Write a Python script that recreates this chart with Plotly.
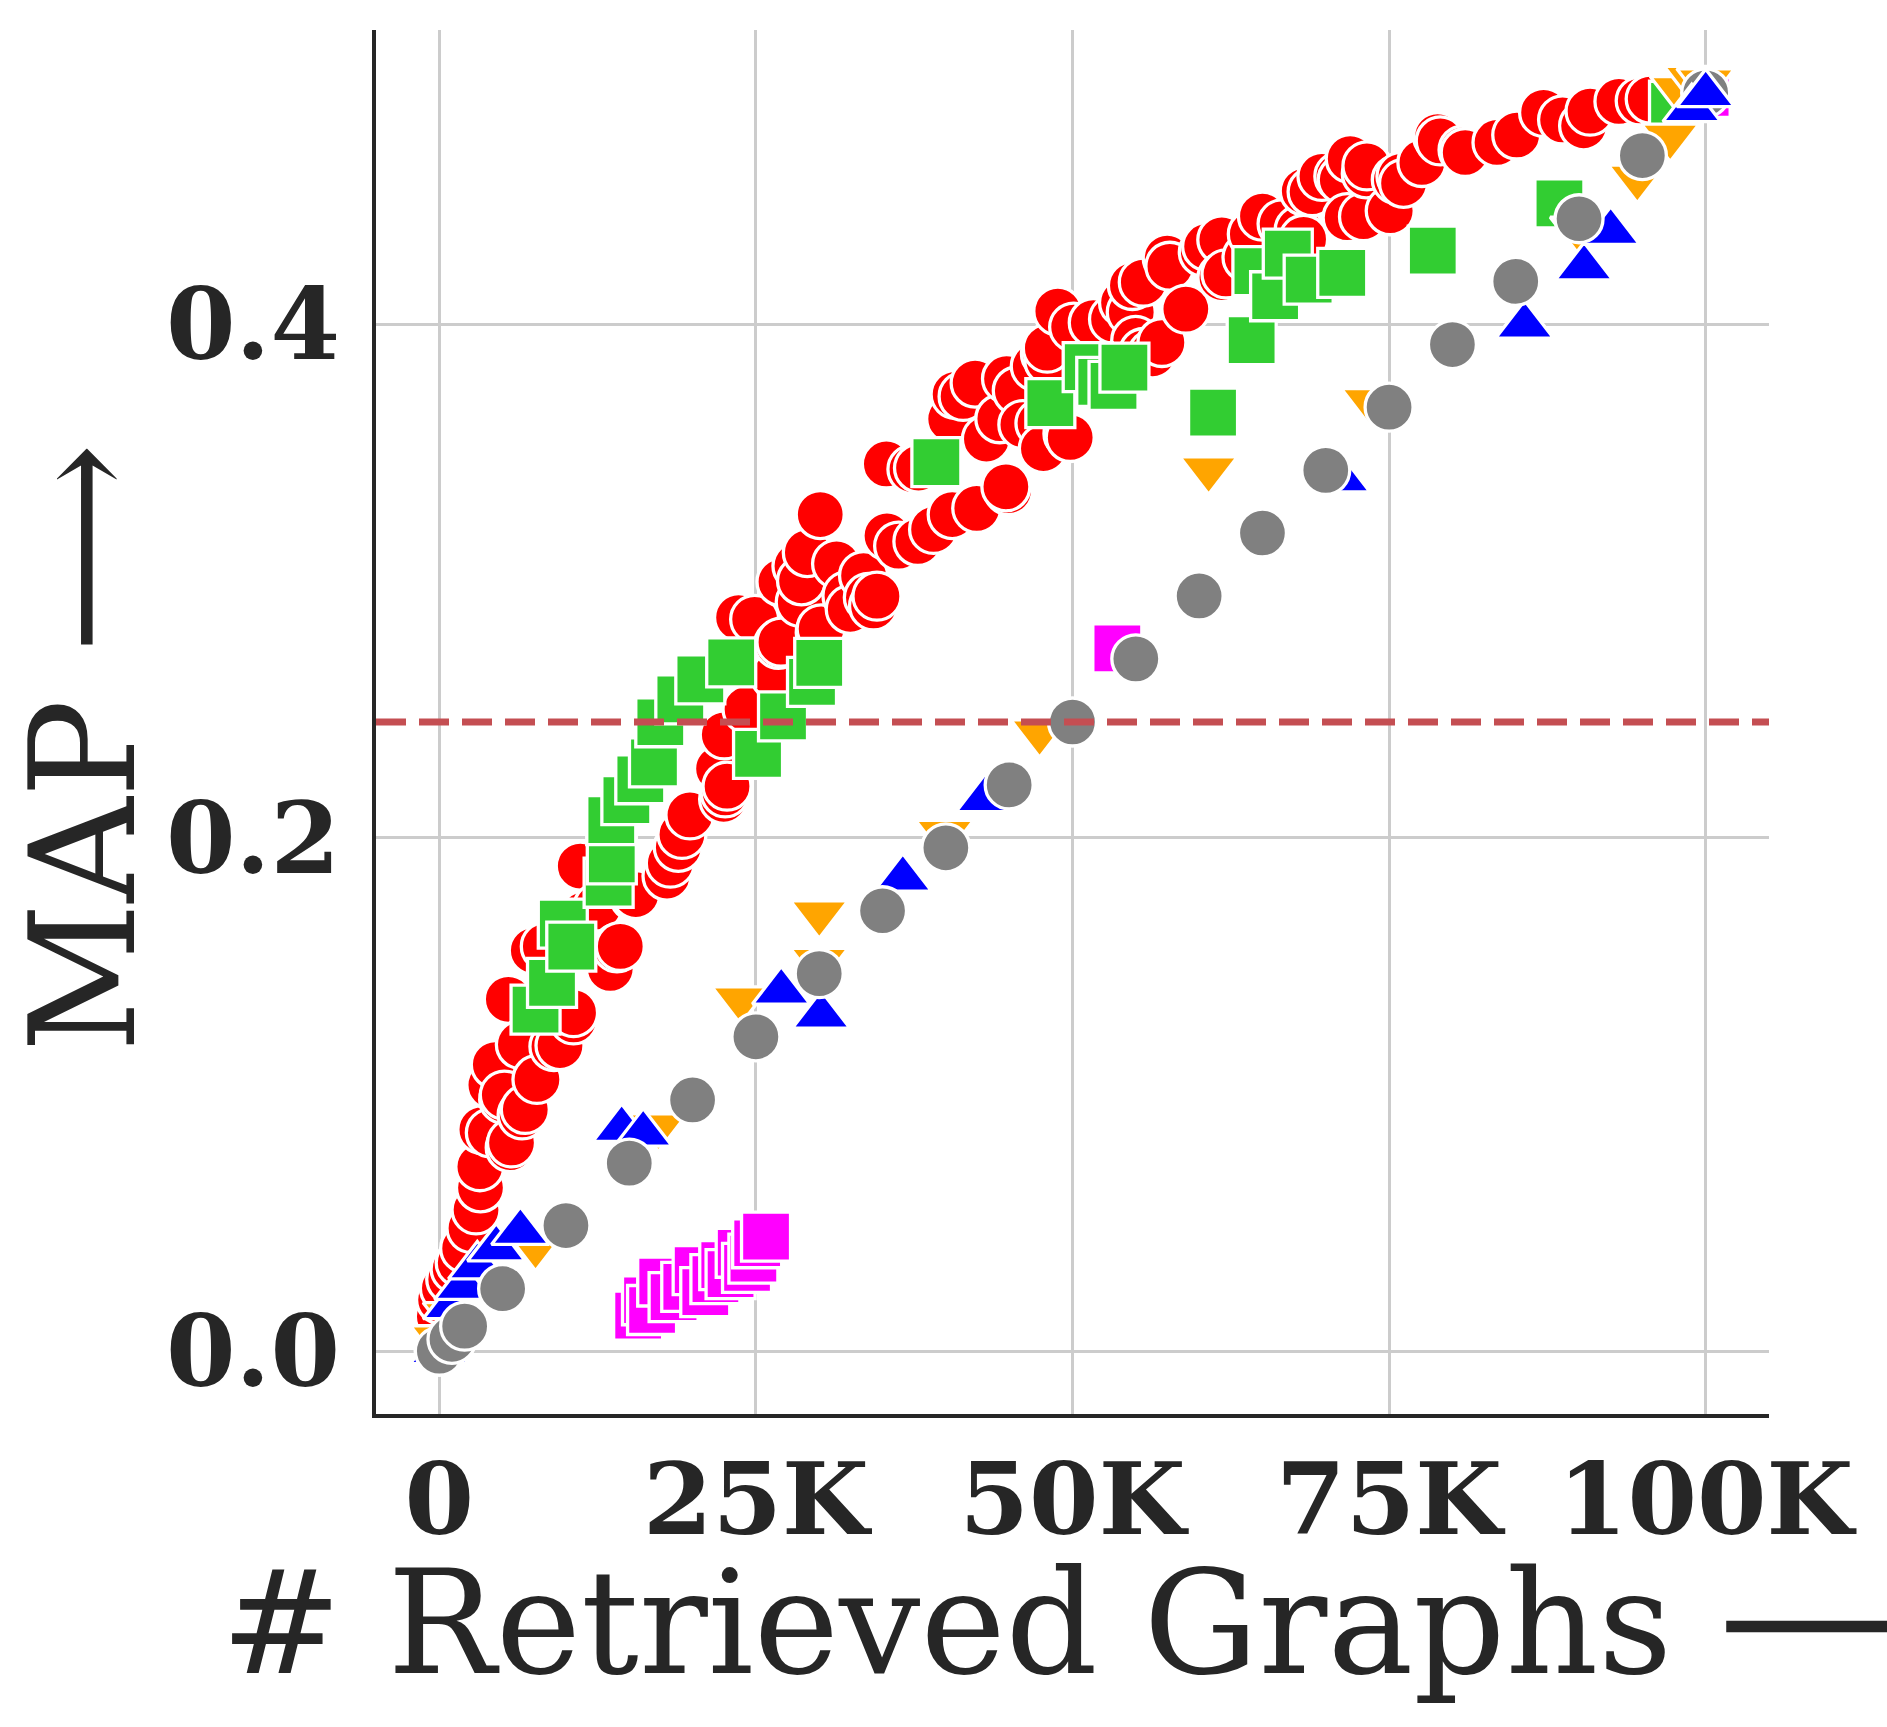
import plotly.graph_objects as go

# ---------------- data ----------------
x_tick_vals = [0, 25000, 50000, 75000, 100000]
x_tick_text = ["0", "25K", "50K", "75K", "100K"]
y_tick_vals = [0.0, 0.2, 0.4]
y_tick_text = ["0.0", "0.2", "0.4"]
threshold_map = 0.245
x_title = "# Retrieved Graphs ⟶"
y_title = "MAP ⟶"

red_x = [0, 0, 0, 100, 400, 900, 1250, 1650, 2000, 2500, 2900, 3250, 3200, 3360, 4030, 4070, 4420,
         5080, 5130, 5450, 5600, 5700, 6400, 6540, 6790, 7420, 7710, 8370, 9050, 9530, 10410, 10600,
         10600, 10800, 10870, 11130, 11430, 12530, 13330, 13500, 14030, 14290, 15400, 15520, 17980,
         18240, 18870, 19160, 19790, 22050, 22450, 22570, 22720, 22500, 24300, 26530, 23500, 23630,
         24900, 26790, 26980, 26980, 28240, 28500, 28600, 29060, 30080, 30080, 30150, 31370, 32190,
         32450, 33500, 33880, 34290, 34560, 35300, 35350, 36270, 37320, 37840, 37790, 39030, 40380,
         40500, 40730, 41360, 42310, 42440, 43200, 44260, 44790, 44950, 44740, 45640, 46080, 47060,
         47430, 47700, 47860, 48130, 48010, 48840, 49640, 49820, 50090, 51640, 53240, 54030, 54640,
         54730, 54990, 55590, 55610, 56330, 57060, 57480, 57690, 58950, 60330, 60590, 61790, 61800,
         62120, 63780, 64200, 65000, 66550, 67900, 68250, 68300, 68920, 69700, 71030, 71300, 71690,
         71930, 72980, 73200, 73250, 75090, 75570, 75940, 76140, 77590, 78830, 79040, 80840, 81010,
         83520, 85080, 87200, 88700, 90360, 90870, 93150, 94830, 95620]
red_y = [0.000, 0.008, 0.0135, 0.020, 0.0245, 0.028, 0.032, 0.0344, 0.040, 0.0478, 0.055, 0.0636,
         0.0718, 0.0863, 0.0850, 0.1036, 0.1116, 0.0980, 0.0997, 0.1370, 0.0792, 0.0811, 0.1194,
         0.0920, 0.0941, 0.1560, 0.1058, 0.1576, 0.1186, 0.1190, 0.1306, 0.1290, 0.1318, 0.1660,
         0.1590, 0.1889, 0.1700, 0.1730, 0.1514, 0.1490, 0.1570, 0.1576, 0.1770, 0.1778, 0.1850,
         0.1900, 0.1962, 0.2012, 0.2088, 0.2268, 0.2149, 0.2174, 0.2200, 0.2400, 0.2500, 0.2630,
         0.2863, 0.2857, 0.2850, 0.2752, 0.2761, 0.2996, 0.3058, 0.2916, 0.3000, 0.3110, 0.3258,
         0.2798, 0.2813, 0.3066, 0.2942, 0.2889, 0.3020, 0.2935, 0.2902, 0.2940, 0.3455, 0.3175,
         0.3135, 0.3434, 0.3439, 0.3153, 0.3200, 0.3630, 0.3258, 0.3726, 0.3718, 0.3770, 0.3282,
         0.3552, 0.3631, 0.3787, 0.3351, 0.3366, 0.3740, 0.3608, 0.3835, 0.3613, 0.3515, 0.3884,
         0.3857, 0.3906, 0.4050, 0.3573, 0.3558, 0.3988, 0.4005, 0.4019, 0.4084, 0.4046, 0.4150,
         0.3936, 0.4163, 0.3889, 0.3884, 0.3928, 0.4257, 0.4225, 0.4058, 0.4280, 0.4302, 0.4328,
         0.4181, 0.4195, 0.4259, 0.4350, 0.4420, 0.4390, 0.4367, 0.4330, 0.4518, 0.4515, 0.4575,
         0.4575, 0.4562, 0.4414, 0.4644, 0.4418, 0.4585, 0.4616, 0.4441, 0.4562, 0.4575, 0.4548,
         0.4629, 0.4730, 0.4713, 0.4678, 0.4668, 0.4707, 0.4736, 0.4824, 0.4795, 0.4772, 0.4829,
         0.4867, 0.4869, 0.4876]

green_x = [7600, 8900, 9750, 10420, 13370, 13620, 13580, 14770, 15870, 16950, 17450, 19030, 20610,
           23050, 25170, 27140, 29430, 30000, 39250, 48250, 51200, 52270, 53240, 54100, 61100, 64150,
           64600, 66000, 67000, 68650, 71300, 78450, 88450, 97500, 100000]
green_y = [0.1330, 0.1434, 0.1665, 0.1575, 0.1824, 0.1915, 0.2068, 0.2146, 0.2227, 0.2293, 0.2449,
           0.2538, 0.2616, 0.2682, 0.2326, 0.2472, 0.2606, 0.2680, 0.3462, 0.3692, 0.3832, 0.3775,
           0.3759, 0.3830, 0.3655, 0.3937, 0.4206, 0.4108, 0.4274, 0.4173, 0.4199, 0.4286, 0.4470,
           0.4850, 0.4900]

magenta_x = [15700, 16400, 16800, 17600, 18500, 19500, 20400, 21000, 21800, 22500, 23000, 23800,
             24300, 24800, 25100, 25800, 53540, 100000]
magenta_y = [0.0138, 0.0198, 0.0160, 0.0271, 0.0210, 0.0250, 0.0315, 0.0230, 0.0280, 0.0335, 0.0300,
             0.0383, 0.0324, 0.0360, 0.0420, 0.0446, 0.2737, 0.4900]

orange_x = [0, 1000, 7600, 17300, 23800, 30000, 30000, 39900, 47400, 60750, 73500, 90000, 94600,
            97200, 97900, 99000, 100000]
orange_y = [0.0050, 0.0140, 0.0410, 0.0875, 0.1370, 0.1705, 0.1520, 0.2018, 0.2410, 0.3434, 0.3700,
            0.4367, 0.4570, 0.4730, 0.4915, 0.4955, 0.4945]

blue_x = [0, 1000, 1900, 3000, 4500, 6400, 14400, 16100, 27000, 30150, 36600, 43100, 71200, 85700,
          90400, 92500, 98900, 100000]
blue_y = [0.0000, 0.0175, 0.0250, 0.0330, 0.0400, 0.0464, 0.0865, 0.0847, 0.1400, 0.1306, 0.1840,
          0.2150, 0.3395, 0.3994, 0.4220, 0.4359, 0.4837, 0.4895]

gray_x = [0, 1000, 2000, 5000, 10000, 15000, 20000, 25000, 30000, 35000, 40000, 45000, 50000,
          55000, 60000, 65000, 70000, 75000, 80000, 85000, 90000, 95000, 100000]
gray_y = [0.0000, 0.0046, 0.0097, 0.0243, 0.0489, 0.0732, 0.0978, 0.1224, 0.1470, 0.1715, 0.1960,
          0.2205, 0.2450, 0.2696, 0.2941, 0.3186, 0.3430, 0.3676, 0.3920, 0.4166, 0.4410, 0.4656,
          0.4900]

# ---------------- figure ----------------
TEXT = "#262626"
SERIF = "DejaVu Serif"

fig = go.Figure()


def add_series(xs, ys, color, symbol, size):
    fig.add_trace(go.Scatter(
        x=xs, y=ys, mode="markers", showlegend=False, hoverinfo="skip",
        marker=dict(color=color, symbol=symbol, size=size,
                    line=dict(color="white", width=3.3)),
    ))


# the top-right end of the blue series sits above the gray one in the reference
blue_lo = [(x, y) for x, y in zip(blue_x, blue_y) if x < 98000]
blue_hi = [(x, y) for x, y in zip(blue_x, blue_y) if x >= 98000]

add_series(red_x, red_y, "#ff0000", "circle", 48)
add_series(green_x, green_y, "#32cd32", "square", 49)
add_series(magenta_x, magenta_y, "#ff00ff", "square", 49)
add_series(orange_x, orange_y, "#ffa500", "triangle-down", 50)
add_series([p[0] for p in blue_lo], [p[1] for p in blue_lo], "#0000ff", "triangle-up", 50)
add_series(gray_x, gray_y, "#808080", "circle", 48)
add_series([p[0] for p in blue_hi], [p[1] for p in blue_hi], "#0000ff", "triangle-up", 50)

fig.add_hline(y=threshold_map, line=dict(color="#c44e52", width=7, dash="30px,13px"),
              layer="above")

fig.update_layout(
    template="none",
    width=1887, height=1727,
    margin=dict(l=376, r=118, t=30, b=313, pad=0, autoexpand=False),
    paper_bgcolor="white", plot_bgcolor="white",
    showlegend=False,
    annotations=[
        dict(text=x_title, xref="paper", yref="paper", x=0.5, y=-0.151,
             xanchor="center", yanchor="middle", showarrow=False,
             font=dict(family=SERIF, size=144, color=TEXT)),
        dict(text=y_title, xref="paper", yref="paper", x=-0.2103, y=0.481,
             xanchor="center", yanchor="middle", showarrow=False, textangle=-90,
             font=dict(family=SERIF, size=146, color=TEXT)),
    ],
)

fig.update_xaxes(
    range=[-5000, 105000], tickmode="array", tickvals=x_tick_vals, ticktext=x_tick_text,
    showgrid=True, gridcolor="#cccccc", gridwidth=3.4, zeroline=False,
    showline=True, linecolor=TEXT, linewidth=4, mirror=False, ticks="",
    automargin=False, ticklabelstandoff=-4,
    tickfont=dict(family=SERIF, size=100, color=TEXT, weight="bold"),
)
fig.update_yaxes(
    range=[-0.0245, 0.5145], tickmode="array", tickvals=y_tick_vals, ticktext=y_tick_text,
    showgrid=True, gridcolor="#cccccc", gridwidth=3.4, zeroline=False,
    showline=True, linecolor=TEXT, linewidth=4, mirror=False, ticks="",
    automargin=False, ticklabelstandoff=12,
    tickfont=dict(family=SERIF, size=100, color=TEXT, weight="bold"),
)

fig.write_html("out.html")
